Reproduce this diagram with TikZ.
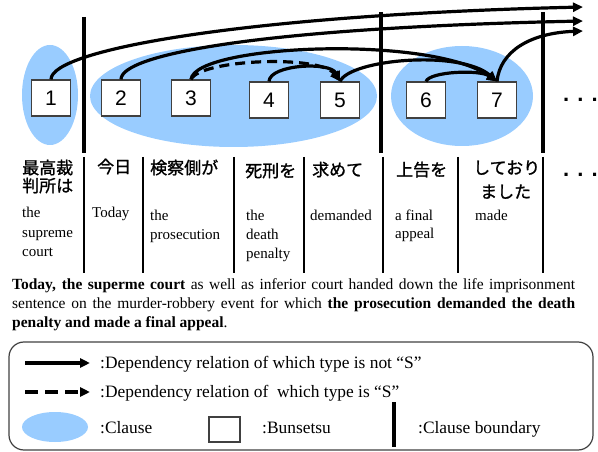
\documentclass[tikz,border=0pt]{standalone}
\usepackage{fontspec}
\setmainfont{Liberation Serif}
\setsansfont{Liberation Sans}
\newfontfamily\jpfont[FakeBold=1.2]{Noto Sans CJK JP}
\usetikzlibrary{arrows.meta}
\definecolor{clauseblue}{RGB}{153,204,255}
\definecolor{boxgray}{RGB}{64,64,64}
\begin{document}
\begin{tikzpicture}[x=1pt,y=-1pt,
  clause/.style={fill=clauseblue},
  bunsetsu/.style={draw=boxgray, line width=1.2pt, fill=white, minimum width=39pt, minimum height=36pt, inner sep=0pt, font=\sffamily\fontsize{21}{21}\selectfont},
  boundary/.style={line width=3.5pt},
  colsep/.style={line width=1.2pt},
  dep/.style={line width=3.2pt, -{Triangle[length=10pt,width=9pt]}},
  sdep/.style={dep, dash pattern=on 10pt off 6pt},
  jp/.style={anchor=base west, inner sep=0pt, font=\jpfont\fontsize{17}{17}\selectfont},
  en/.style={anchor=base west, inner sep=0pt, font=\fontsize{15}{15}\selectfont},
  para/.style={anchor=base west, inner sep=0pt, font=\fontsize{15.5}{15.5}\selectfont},
  leg/.style={anchor=base west, inner sep=0pt, font=\fontsize{17.4}{17.4}\selectfont},
  dots/.style={anchor=base west, inner sep=0pt, font=\sffamily\bfseries\fontsize{22}{22}\selectfont},
]
\useasboundingbox (0,0) rectangle (598,452);
% clauses
\fill[clause] (50,95) ellipse [x radius=28pt, y radius=50pt];
\fill[clause] (233.5,96) ellipse [x radius=143.5pt, y radius=51pt];
\fill[clause] (462,96) ellipse [x radius=71pt, y radius=50pt];
% clause boundaries
\draw[boundary] (84,17) -- (84,153);
\draw[boundary] (381,12) -- (381,153);
\draw[boundary] (543,12) -- (543,153);
% column separators
\foreach \xx in {84,143,304,383,458,543} \draw[colsep] (\xx,157) -- (\xx,273);
\draw[line width=2pt] (234,157) -- (234,273);
% bunsetsu
\node[bunsetsu] (b1) at (51,98) {1};
\node[bunsetsu] (b2) at (121,98) {2};
\node[bunsetsu] (b3) at (191,98) {3};
\node[bunsetsu] (b4) at (269,100) {4};
\node[bunsetsu] (b5) at (340,100) {5};
\node[bunsetsu] (b6) at (426,100) {6};
\node[bunsetsu] (b7) at (497,100) {7};
\node[dots] (d1) at (563,102) {. . .};
\coordinate (o1) at (583,7);
\coordinate (o2) at (583,21);
\coordinate (o3) at (583,31);
% dependencies
\draw[dep] (b1.north) .. controls +(0,-30) and +(-335,8) .. (o1);
\draw[dep] (b2.north) .. controls +(0,-25) and +(-323,7) .. (o2);
\draw[dep] (b3.north) .. controls +(4,-35) and +(-67,-47) .. (b7.north);
\draw[sdep] (b3.north) .. controls +(9,-20) and +(-20,-27) .. (b5.north);
\draw[dep] (b4.north) .. controls +(1,-17) and +(-10,-20) .. (b5.north);
\draw[dep] (b5.north) .. controls +(10,-22) and +(-37,-32) .. (b7.north);
\draw[dep] (b6.north) .. controls +(4,-10) and +(-17,-12) .. (b7.north);
\draw[dep] (b7.north) .. controls +(3,-30) and +(-53,2) .. (o3);
% words
\node[jp] (j1a) at (22,174) {最高裁};
\node[jp] (j1b) at (22,192) {判所は};
\node[jp] (j2) at (97,173) {今日};
\node[jp] (j3) at (150,174) {検察側が};
\node[jp] (j4) at (245,177) {死刑を};
\node[jp] (j5) at (312,176) {求めて};
\node[jp] (j6) at (396,176) {上告を};
\node[jp] (j7a) at (473,174) {しており};
\node[jp] (j7b) at (480,198) {ました};
\node[dots] (d2) at (563,176) {. . .};
\node[en] (e1a) at (22,218) {the};
\node[en] (e1b) at (22,237) {supreme};
\node[en] (e1c) at (22,256) {court};
\node[en] (e2) at (92,218) {Today};
\node[en] (e3a) at (150,220) {the};
\node[en] (e3b) at (150,239) {prosecution};
\node[en] (e4a) at (246,220) {the};
\node[en] (e4b) at (246,239) {death};
\node[en] (e4c) at (246,258) {penalty};
\node[en] (e5) at (310,220) {demanded};
\node[en] (e6a) at (395,220) {a final};
\node[en] (e6b) at (395,238) {appeal};
\node[en] (e7) at (475,220) {made};
% paragraph
\node[para] (p1) at (12,289) {\makebox[563pt][s]{\textbf{Today, the superme court} as well as inferior court handed down the life imprisonment}};
\node[para] (p2) at (12,308) {\makebox[563pt][s]{sentence on the murder-robbery event for which \textbf{the prosecution demanded the death}}};
\node[para] (p3) at (12,327) {\textbf{penalty and made a final appeal}.};
% legend
\draw[draw=boxgray, line width=1.2pt, rounded corners=15pt] (9,342) rectangle (593,450);
\coordinate (la1) at (25,363);
\coordinate (lb1) at (90,363);
\coordinate (la2) at (25,392);
\coordinate (lb2) at (90,392);
\draw[dep] (la1) -- (lb1);
\draw[dep, dash pattern=on 13pt off 7pt] (la2) -- (lb2);
\node[leg] (lt1) at (100,368) {:Dependency relation of which type is not “S”};
\node[leg] (lt2) at (100,397) {:Dependency relation of\ \ which type is “S”};
\fill[clause] (55,427) ellipse [x radius=33pt, y radius=15pt];
\node[leg] (lt3) at (100,433) {:Clause};
\node[draw=boxgray, line width=1.2pt, minimum width=31pt, minimum height=25pt, inner sep=0pt] (lbox) at (224.5,429.5) {};
\node[leg] (lt4) at (262,433) {:Bunsetsu};
\draw[line width=4pt] (394,402) -- (394,447);
\node[leg] (lt5) at (418,433) {:Clause boundary};
\end{tikzpicture}
\end{document}
